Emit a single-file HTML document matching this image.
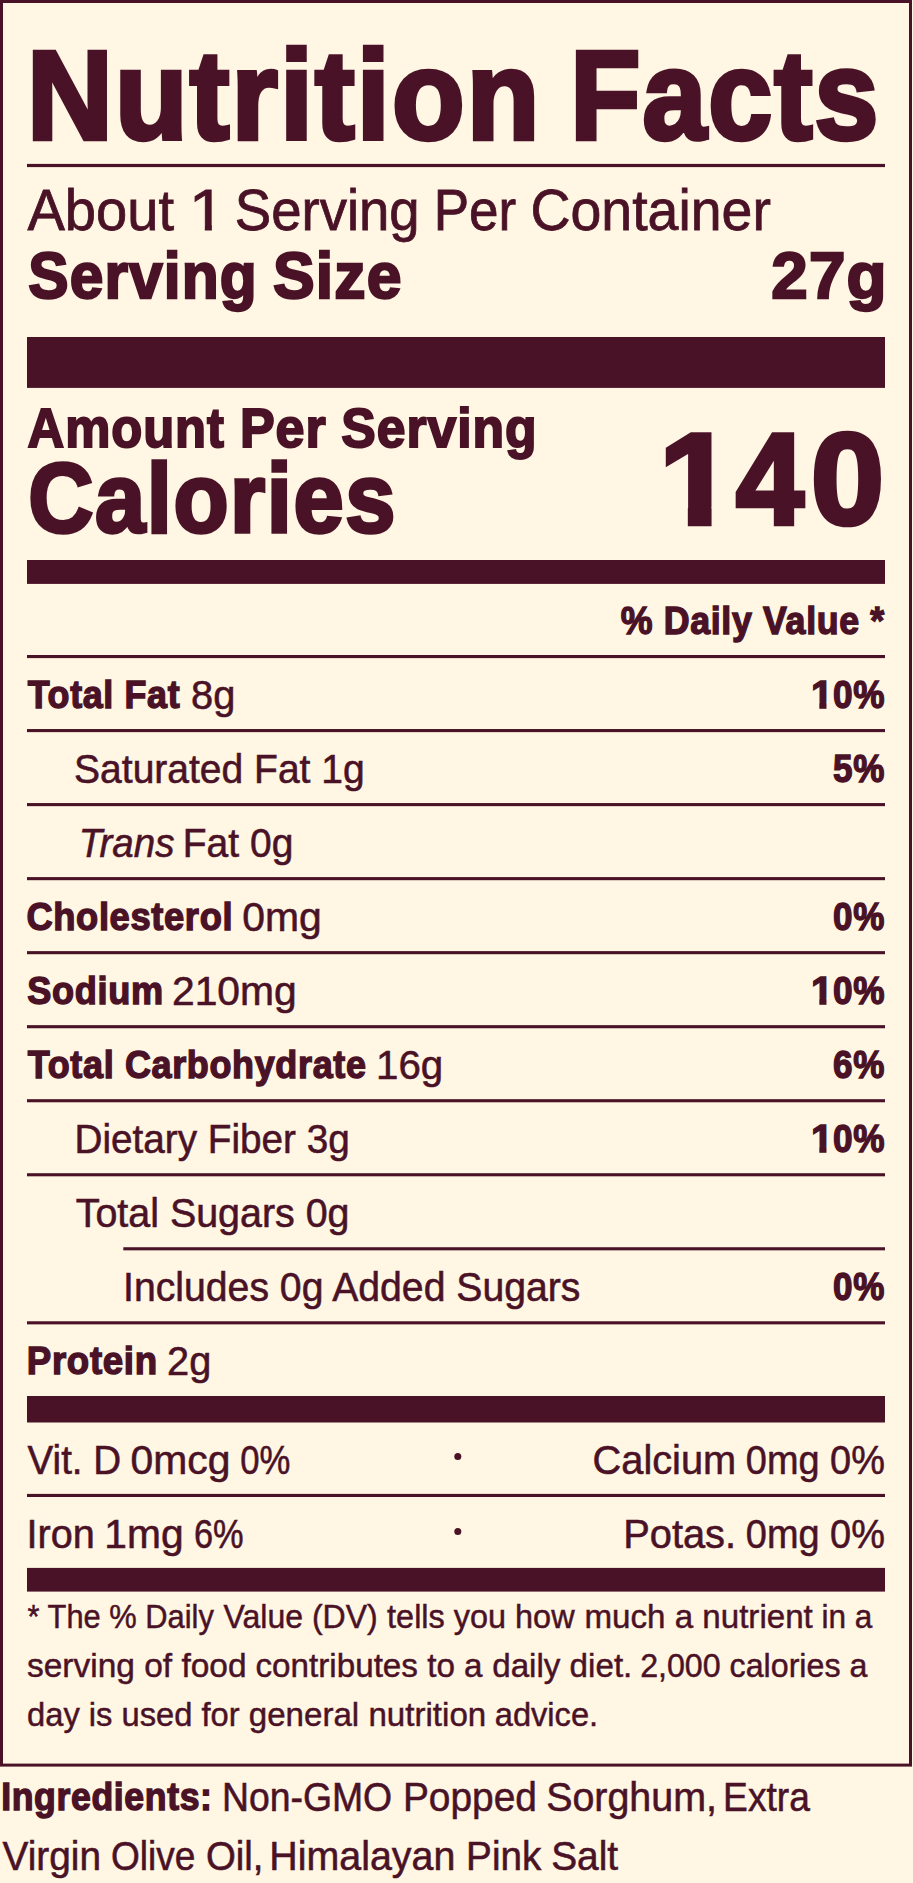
<!DOCTYPE html>
<html lang="en">
<head>
<meta charset="utf-8">
<title>Nutrition Facts</title>
<style>
html,body{margin:0;padding:0}
body{width:913px;height:1883px;background:#fff6e3;color:#4a1226;font-family:'Liberation Sans', sans-serif;position:relative;overflow:hidden}
.t{position:absolute;left:0;top:0;white-space:nowrap;line-height:1;transform-origin:0 0;font-weight:400}
.l{position:absolute;left:0;top:0}
.c{display:inline-block;position:relative;transform-origin:0 0;line-height:1}
svg{position:absolute;left:0;top:0}
</style>
</head>
<body>
<svg width="913" height="1883" viewBox="0 0 913 1883" fill="#4a1226">
<rect x="1.50" y="1.50" width="909.00" height="1763.60" fill="none" stroke="#4a1226" stroke-width="3.0"/>
<rect x="27.00" y="163.90" width="858.00" height="3.20"/>
<rect x="27.00" y="337.00" width="858.00" height="50.90"/>
<rect x="27.00" y="560.00" width="858.00" height="23.90"/>
<rect x="27.00" y="655.00" width="858.00" height="3.10"/>
<rect x="27.00" y="729.03" width="858.00" height="3.10"/>
<rect x="27.00" y="803.06" width="858.00" height="3.10"/>
<rect x="27.00" y="877.09" width="858.00" height="3.10"/>
<rect x="27.00" y="951.12" width="858.00" height="3.10"/>
<rect x="27.00" y="1025.15" width="858.00" height="3.10"/>
<rect x="27.00" y="1099.18" width="858.00" height="3.10"/>
<rect x="27.00" y="1173.21" width="858.00" height="3.10"/>
<rect x="123.30" y="1247.24" width="761.70" height="3.10"/>
<rect x="27.00" y="1321.27" width="858.00" height="3.10"/>
<rect x="27.00" y="1396.00" width="858.00" height="26.50"/>
<rect x="27.00" y="1493.90" width="858.00" height="3.10"/>
<rect x="27.00" y="1567.90" width="858.00" height="23.70"/>
<circle cx="457.80" cy="1456.60" r="3.50"/>
<circle cx="457.80" cy="1531.40" r="3.50"/>
</svg>
<div class="l">
<span class="t" style="font-size:125.92px;letter-spacing:2.27px;-webkit-text-stroke-width:4.53px;transform:translate(27.04px,33.23px) scaleX(0.9441)"><b>Nutrition</b></span>
<span class="t" style="font-size:125.92px;letter-spacing:2.27px;-webkit-text-stroke-width:4.53px;transform:translate(570.23px,33.23px) scaleX(0.9119)"><b>Facts</b></span>
</div>
<div class="l">
<span class="t" style="font-size:58.16px;-webkit-text-stroke-width:0.81px;transform:translate(27.40px,181.45px) scaleX(0.9645)">About</span>
<span class="t" style="font-size:58.16px;-webkit-text-stroke-width:0.81px;transform:translate(188.83px,181.45px) scaleX(1.1333);clip-path:polygon(-174px -174px,174px -174px,174px 43.31px,20.33px 43.31px,20.33px 174px,14.13px 174px,14.13px 43.31px,-174px 43.31px)">1</span>
<span class="t" style="font-size:58.16px;-webkit-text-stroke-width:0.81px;transform:translate(234.82px,181.45px) scaleX(0.9375)">Serving</span>
<span class="t" style="font-size:58.16px;-webkit-text-stroke-width:0.81px;transform:translate(433.65px,181.45px) scaleX(0.9116)">Per</span>
<span class="t" style="font-size:58.16px;-webkit-text-stroke-width:0.81px;transform:translate(530.44px,181.45px) scaleX(0.9534)">Container</span>
</div>
<div class="l">
<span class="t" style="font-size:65.10px;letter-spacing:1.17px;-webkit-text-stroke-width:2.34px;transform:translate(28.37px,242.72px) scaleX(0.9285)"><b>Serving</b></span>
<span class="t" style="font-size:65.10px;letter-spacing:1.17px;-webkit-text-stroke-width:2.34px;transform:translate(273.04px,242.72px) scaleX(0.9598)"><b>Size</b></span>
<span class="t" style="font-size:65.10px;letter-spacing:1.17px;-webkit-text-stroke-width:2.34px;transform:translate(771.29px,242.72px) scaleX(1.0064)"><b>27g</b></span>
</div>
<div class="l">
<span class="t" style="font-size:55.84px;letter-spacing:1.01px;-webkit-text-stroke-width:2.01px;transform:translate(27.60px,399.91px) scaleX(0.9093)"><b>Amount</b></span>
<span class="t" style="font-size:55.84px;letter-spacing:1.01px;-webkit-text-stroke-width:2.01px;transform:translate(239.90px,399.91px) scaleX(0.9326)"><b>Per</b></span>
<span class="t" style="font-size:55.84px;letter-spacing:1.01px;-webkit-text-stroke-width:2.01px;transform:translate(341.37px,399.91px) scaleX(0.9261)"><b>Serving</b></span>
</div>
<div class="l">
<span class="t" style="font-size:97.58px;letter-spacing:1.76px;-webkit-text-stroke-width:3.51px;transform:translate(28.15px,449.59px) scaleX(0.9244)"><b>Calories</b></span>
</div>
<div class="l">
<span class="t" style="font-size:130.62px;-webkit-text-stroke-width:4.70px;transform:translate(0px,414.28px)"><span class="c" style="left:659.06px;transform:scaleX(1.0341);clip-path:polygon(-392px -392px,392px -392px,392px 93.07px,50.83px 93.07px,50.83px 392px,27.87px 392px,27.87px 93.07px,-392px 93.07px)"><b>1</b></span><span class="c" style="left:663.30px;transform:scaleX(0.9338)"><b>4</b></span><span class="c" style="left:665.39px;transform:scaleX(1.0045)"><b>0</b></span></span>
</div>
<div class="l">
<span class="t" style="font-size:39.25px;letter-spacing:0.71px;-webkit-text-stroke-width:1.41px;transform:translate(620.70px,601.12px) scaleX(0.9114)"><b>% Daily Value *</b></span>
</div>
<div class="l">
<span class="t" style="font-size:39.25px;letter-spacing:0.71px;-webkit-text-stroke-width:1.41px;transform:translate(27.70px,675.12px) scaleX(0.9132)"><b>Total Fat</b></span>
<span class="t" style="font-size:40.48px;-webkit-text-stroke-width:0.57px;transform:translate(191.02px,674.51px) scaleX(0.9833)">8g</span>
<span class="t" style="font-size:39.25px;-webkit-text-stroke-width:1.41px;transform:translate(0px,675.12px)"><span class="c" style="left:810.59px;transform:scaleX(1.0071);clip-path:polygon(-118px -118px,118px -118px,118px 27.40px,15.38px 27.40px,15.38px 118px,8.27px 118px,8.27px 27.40px,-118px 27.40px)"><b>1</b></span><span class="c" style="left:810.90px;letter-spacing:0.71px;transform:scaleX(0.8964)"><b>0%</b></span></span>
</div>
<div class="l">
<span class="t" style="font-size:40.48px;-webkit-text-stroke-width:0.57px;transform:translate(74.07px,748.51px) scaleX(0.9640)">Saturated Fat 1g</span>
<span class="t" style="font-size:39.25px;letter-spacing:0.71px;-webkit-text-stroke-width:1.41px;transform:translate(833.11px,749.12px) scaleX(0.8929)"><b>5%</b></span>
</div>
<div class="l">
<span class="t" style="font-size:40.48px;-webkit-text-stroke-width:0.57px;transform:translate(78.85px,822.61px) scaleX(0.9515)"><i>Trans</i></span>
<span class="t" style="font-size:40.48px;-webkit-text-stroke-width:0.57px;transform:translate(182.81px,822.61px) scaleX(0.9633)">Fat 0g</span>
</div>
<div class="l">
<span class="t" style="font-size:39.25px;letter-spacing:0.71px;-webkit-text-stroke-width:1.41px;transform:translate(26.38px,897.22px) scaleX(0.9245)"><b>Cholesterol</b></span>
<span class="t" style="font-size:40.48px;-webkit-text-stroke-width:0.57px;transform:translate(242.29px,896.61px) scaleX(1.0093)">0mg</span>
<span class="t" style="font-size:39.25px;letter-spacing:0.71px;-webkit-text-stroke-width:1.41px;transform:translate(833.11px,897.22px) scaleX(0.8929)"><b>0%</b></span>
</div>
<div class="l">
<span class="t" style="font-size:39.25px;letter-spacing:0.71px;-webkit-text-stroke-width:1.41px;transform:translate(27.30px,971.22px) scaleX(0.9205)"><b>Sodium</b></span>
<span class="t" style="font-size:40.48px;-webkit-text-stroke-width:0.57px;transform:translate(171.98px,970.61px) scaleX(1.0084)">210mg</span>
<span class="t" style="font-size:39.25px;-webkit-text-stroke-width:1.41px;transform:translate(0px,971.22px)"><span class="c" style="left:810.59px;transform:scaleX(1.0071);clip-path:polygon(-118px -118px,118px -118px,118px 27.40px,15.38px 27.40px,15.38px 118px,8.27px 118px,8.27px 27.40px,-118px 27.40px)"><b>1</b></span><span class="c" style="left:810.90px;letter-spacing:0.71px;transform:scaleX(0.8964)"><b>0%</b></span></span>
</div>
<div class="l">
<span class="t" style="font-size:39.25px;letter-spacing:0.71px;-webkit-text-stroke-width:1.41px;transform:translate(27.80px,1045.32px) scaleX(0.9163)"><b>Total Carbohydrate</b></span>
<span class="t" style="font-size:40.48px;-webkit-text-stroke-width:0.57px;transform:translate(376.01px,1044.71px) scaleX(0.9952)">16g</span>
<span class="t" style="font-size:39.25px;letter-spacing:0.71px;-webkit-text-stroke-width:1.41px;transform:translate(833.11px,1045.32px) scaleX(0.8929)"><b>6%</b></span>
</div>
<div class="l">
<span class="t" style="font-size:40.48px;-webkit-text-stroke-width:0.57px;transform:translate(74.43px,1118.71px) scaleX(0.9565)">Dietary Fiber 3g</span>
<span class="t" style="font-size:39.25px;-webkit-text-stroke-width:1.41px;transform:translate(0px,1119.32px)"><span class="c" style="left:810.59px;transform:scaleX(1.0071);clip-path:polygon(-118px -118px,118px -118px,118px 27.40px,15.38px 27.40px,15.38px 118px,8.27px 118px,8.27px 27.40px,-118px 27.40px)"><b>1</b></span><span class="c" style="left:810.90px;letter-spacing:0.71px;transform:scaleX(0.8964)"><b>0%</b></span></span>
</div>
<div class="l">
<span class="t" style="font-size:40.48px;-webkit-text-stroke-width:0.57px;transform:translate(75.73px,1192.71px) scaleX(0.9734)">Total Sugars 0g</span>
</div>
<div class="l">
<span class="t" style="font-size:40.48px;-webkit-text-stroke-width:0.57px;transform:translate(123.10px,1266.71px) scaleX(0.9679)">Includes 0g Added Sugars</span>
<span class="t" style="font-size:39.25px;letter-spacing:0.71px;-webkit-text-stroke-width:1.41px;transform:translate(833.11px,1267.32px) scaleX(0.8929)"><b>0%</b></span>
</div>
<div class="l">
<span class="t" style="font-size:39.25px;letter-spacing:0.71px;-webkit-text-stroke-width:1.41px;transform:translate(26.83px,1341.42px) scaleX(0.9338)"><b>Protein</b></span>
<span class="t" style="font-size:40.48px;-webkit-text-stroke-width:0.57px;transform:translate(167.03px,1340.81px) scaleX(0.9829)">2g</span>
</div>
<div class="l">
<span class="t" style="font-size:40.34px;-webkit-text-stroke-width:0.56px;transform:translate(27.50px,1439.53px) scaleX(0.9573)">Vit. D</span>
<span class="t" style="font-size:40.34px;-webkit-text-stroke-width:0.56px;transform:translate(130.59px,1439.53px) scaleX(1.0126)">0mcg</span>
<span class="t" style="font-size:40.34px;-webkit-text-stroke-width:0.56px;transform:translate(240.34px,1439.53px) scaleX(0.8589)">0%</span>
<span class="t" style="font-size:40.34px;-webkit-text-stroke-width:0.56px;transform:translate(592.53px,1439.53px) scaleX(0.9865)">Calcium</span>
<span class="t" style="font-size:40.34px;-webkit-text-stroke-width:0.56px;transform:translate(745.86px,1439.53px) scaleX(0.9397)">0mg 0%</span>
</div>
<div class="l">
<span class="t" style="font-size:40.34px;-webkit-text-stroke-width:0.56px;transform:translate(26.55px,1513.53px) scaleX(0.9828)">Iron</span>
<span class="t" style="font-size:40.34px;-webkit-text-stroke-width:0.56px;transform:translate(104.37px,1513.53px) scaleX(1.0096)">1mg</span>
<span class="t" style="font-size:40.34px;-webkit-text-stroke-width:0.56px;transform:translate(193.89px,1513.53px) scaleX(0.8527)">6%</span>
<span class="t" style="font-size:40.34px;-webkit-text-stroke-width:0.56px;transform:translate(623.24px,1513.53px) scaleX(0.9870)">Potas.</span>
<span class="t" style="font-size:40.34px;-webkit-text-stroke-width:0.56px;transform:translate(745.86px,1513.53px) scaleX(0.9397)">0mg 0%</span>
</div>
<div class="l">
<span class="t" style="font-size:33.50px;-webkit-text-stroke-width:0.47px;transform:translate(27.50px,1600.46px) scaleX(0.9213)">* The % Daily</span>
<span class="t" style="font-size:33.50px;-webkit-text-stroke-width:0.47px;transform:translate(223.50px,1600.46px) scaleX(0.9556)">Value (DV)</span>
<span class="t" style="font-size:33.50px;-webkit-text-stroke-width:0.47px;transform:translate(387.10px,1600.46px) scaleX(0.9680)">tells you how</span>
<span class="t" style="font-size:33.50px;-webkit-text-stroke-width:0.47px;transform:translate(584.42px,1600.46px) scaleX(0.9891)">much a nutrient</span>
<span class="t" style="font-size:33.50px;-webkit-text-stroke-width:0.47px;transform:translate(821.42px,1600.46px) scaleX(0.9423)">in a</span>
</div>
<div class="l">
<span class="t" style="font-size:33.50px;-webkit-text-stroke-width:0.47px;transform:translate(27.00px,1649.46px) scaleX(0.9991)">serving of food</span>
<span class="t" style="font-size:33.50px;-webkit-text-stroke-width:0.47px;transform:translate(255.51px,1649.46px) scaleX(0.9912)">contributes to a</span>
<span class="t" style="font-size:33.50px;-webkit-text-stroke-width:0.47px;transform:translate(492.21px,1649.46px) scaleX(0.9899)">daily diet.</span>
<span class="t" style="font-size:33.50px;-webkit-text-stroke-width:0.47px;transform:translate(640.14px,1649.46px) scaleX(0.9606)">2,000 calories a</span>
</div>
<div class="l">
<span class="t" style="font-size:33.50px;-webkit-text-stroke-width:0.47px;transform:translate(27.02px,1698.46px) scaleX(0.9760)">day is used for</span>
<span class="t" style="font-size:33.50px;-webkit-text-stroke-width:0.47px;transform:translate(248.71px,1698.46px) scaleX(0.9886)">general nutrition</span>
<span class="t" style="font-size:33.50px;-webkit-text-stroke-width:0.47px;transform:translate(494.73px,1698.46px) scaleX(0.9745)">advice.</span>
</div>
<div class="l">
<span class="t" style="font-size:38.84px;letter-spacing:0.70px;-webkit-text-stroke-width:1.40px;transform:translate(1.17px,1778.38px) scaleX(0.9169)"><b>Ingredients:</b></span>
<span class="t" style="font-size:40.06px;-webkit-text-stroke-width:0.56px;transform:translate(221.90px,1776.77px) scaleX(0.9331)">Non-GMO</span>
<span class="t" style="font-size:40.06px;-webkit-text-stroke-width:0.56px;transform:translate(402.89px,1776.77px) scaleX(0.9707)">Popped</span>
<span class="t" style="font-size:40.06px;-webkit-text-stroke-width:0.56px;transform:translate(546.13px,1776.77px) scaleX(0.9839)">Sorghum,</span>
<span class="t" style="font-size:40.06px;-webkit-text-stroke-width:0.56px;transform:translate(723.12px,1776.77px) scaleX(0.9275)">Extra</span>
</div>
<div class="l">
<span class="t" style="font-size:40.06px;-webkit-text-stroke-width:0.56px;transform:translate(2.50px,1835.57px) scaleX(0.9690)">Virgin</span>
<span class="t" style="font-size:40.06px;-webkit-text-stroke-width:0.56px;transform:translate(111.05px,1835.57px) scaleX(0.9250)">Olive</span>
<span class="t" style="font-size:40.06px;-webkit-text-stroke-width:0.56px;transform:translate(205.88px,1835.57px) scaleX(0.9582)">Oil,</span>
<span class="t" style="font-size:40.06px;-webkit-text-stroke-width:0.56px;transform:translate(269.25px,1835.57px) scaleX(0.9837)">Himalayan</span>
<span class="t" style="font-size:40.06px;-webkit-text-stroke-width:0.56px;transform:translate(466.10px,1835.57px) scaleX(0.9653)">Pink</span>
<span class="t" style="font-size:40.06px;-webkit-text-stroke-width:0.56px;transform:translate(551.16px,1835.57px) scaleX(0.9701)">Salt</span>
</div>
</body>
</html>
